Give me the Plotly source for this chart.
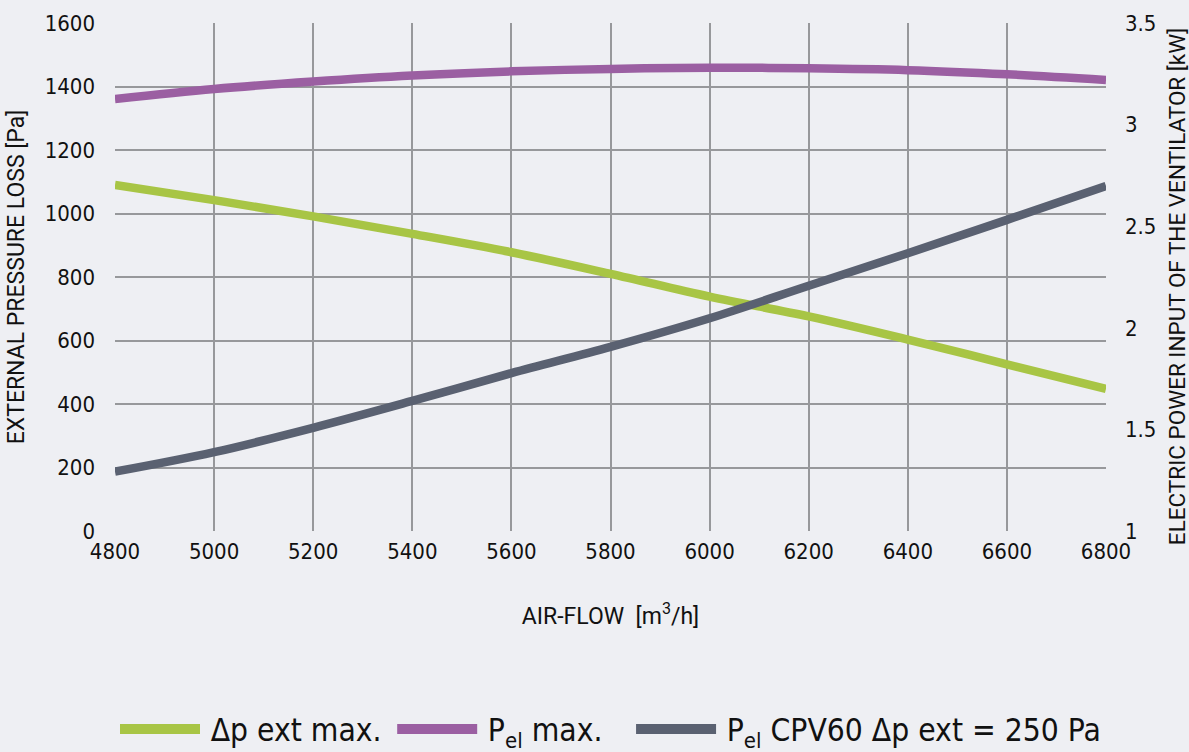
import plotly.graph_objects as go

airflow = [4800, 5000, 5200, 5400, 5600, 5800, 6000, 6200, 6400, 6600, 6800]
dp_ext_max = [1090, 1042, 991, 936, 878, 810, 738, 676, 603, 525, 448]
pel_max = [3.126, 3.175, 3.212, 3.242, 3.262, 3.274, 3.280, 3.277, 3.268, 3.248, 3.220]
pel_cpv60 = [1.292, 1.388, 1.508, 1.640, 1.777, 1.906, 2.047, 2.207, 2.367, 2.531, 2.698]

series_names = ["Δp ext max.", "P<sub>el</sub> max.", "P<sub>el</sub> CPV60 Δp ext = 250 Pa"]

x_ticks = list(range(4800, 6801, 200))
y_left_ticks = list(range(0, 1601, 200))
y_right_ticks = [1, 1.5, 2, 2.5, 3, 3.5]

GREEN = "#a8c545"
PURPLE = "#9b5fa2"
DARK = "#5a6171"
GRID = "#97989b"
BG = "#eeeff3"
NARROW = "DejaVu Sans Condensed"
REG = "Roboto"
colors = [GREEN, PURPLE, DARK]
# thin / non-breaking spaces to reproduce the reference's legend spacing
legend_pre = ["\u2009", "\u2009", "\u2009"]
legend_post = ["\u2009", "\u00a0\u00a0\u2009", ""]

fig = go.Figure()
fig.add_trace(go.Scatter(x=airflow, y=dp_ext_max, mode="lines", name=series_names[0],
                         line=dict(color=GREEN, width=8.5, shape="spline"), yaxis="y",
                         showlegend=False))
fig.add_trace(go.Scatter(x=airflow, y=pel_max, mode="lines", name=series_names[1],
                         line=dict(color=PURPLE, width=8.5, shape="spline"), yaxis="y2",
                         showlegend=False))
fig.add_trace(go.Scatter(x=airflow, y=pel_cpv60, mode="lines", name=series_names[2],
                         line=dict(color=DARK, width=8.5, shape="spline"), yaxis="y2",
                         showlegend=False))
# legend entries (thicker swatches, as in the reference)
for nm, c, pre, post in zip(series_names, colors, legend_pre, legend_post):
    fig.add_trace(go.Scatter(x=[None], y=[None], mode="lines", name=pre + nm + post,
                             line=dict(color=c, width=12), showlegend=True, hoverinfo="skip"))

fig.update_layout(
    width=1189, height=752,
    paper_bgcolor=BG, plot_bgcolor=BG,
    margin=dict(l=115, r=83, t=23, b=221, autoexpand=False),
    font=dict(family=NARROW, color="#111111", size=20),
    xaxis=dict(range=[4800, 6800], tickvals=x_ticks, showgrid=True, gridcolor=GRID,
               gridwidth=2, zeroline=False, showline=False, ticks="", automargin=False,
               ticklabelstandoff=5,
               tickfont=dict(family=NARROW, size=22, color="#111111"),
               title=dict(text="AIR-FLOW  [m<sup>3</sup>/h]",
                          font=dict(family=REG, size=23, color="#111111"), standoff=44)),
    yaxis=dict(range=[0, 1600], tickvals=y_left_ticks, showgrid=True, gridcolor=GRID,
               gridwidth=2, zeroline=False, showline=False, ticks="", automargin=False,
               ticklabelstandoff=19,
               tickfont=dict(family=NARROW, size=22, color="#111111"),
               title=dict(text="EXTERNAL PRESSURE LOSS [Pa]",
                          font=dict(family=REG, size=23, color="#111111"), standoff=13)),
    yaxis2=dict(range=[1, 3.5], tickvals=y_right_ticks, overlaying="y", side="right",
                showgrid=False, zeroline=False, showline=False, ticks="", automargin=False,
                ticklabelstandoff=18,
                tickfont=dict(family=NARROW, size=22, color="#111111")),
    annotations=[dict(text="ELECTRIC POWER INPUT OF THE VENTILATOR [kW]",
                      xref="paper", yref="paper", x=1, y=0.48, xshift=71,
                      xanchor="center", yanchor="middle", textangle=-90, showarrow=False,
                      font=dict(family=REG, size=22.5, color="#111111"))],
    legend=dict(orientation="h", x=0.0, xanchor="left", y=-0.39, yanchor="middle",
                font=dict(family=NARROW, size=31.5, color="#111111"),
                bgcolor="rgba(0,0,0,0)", itemwidth=80, traceorder="normal"),
    showlegend=True,
)

fig.write_html("out.html", config={"displayModeBar": False},
               post_script="document.body.style.margin='0px';"
                           "document.body.style.overflow='hidden';")
